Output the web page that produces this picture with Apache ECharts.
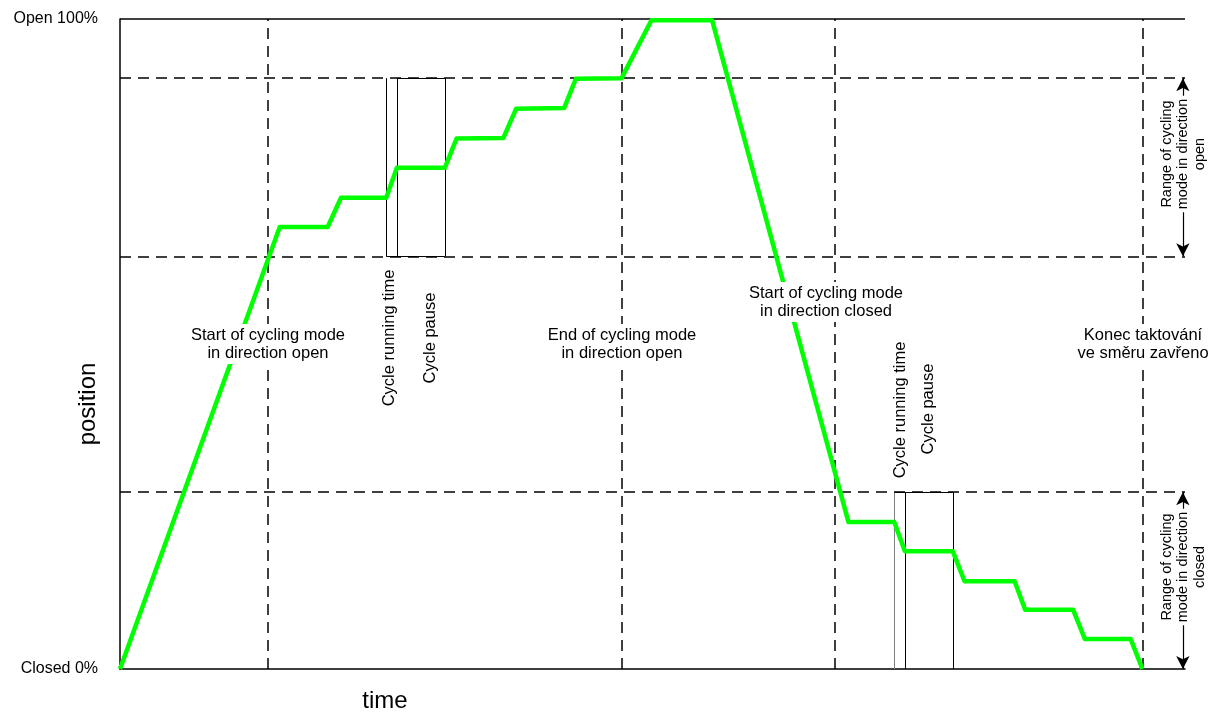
<!DOCTYPE html>
<html>
<head>
<meta charset="utf-8">
<script src="https://cdn.jsdelivr.net/npm/echarts@6/dist/echarts.min.js"></script>
<style>
  html, body { margin: 0; padding: 0; background: #fff; }
  #chart { width: 1211px; height: 712px; }
</style>
</head>
<body>
<div id="chart"></div>
<script>
// valve position over time (time in % of plotted span, position in % open)
const timePoints = [0, 15.0, 19.5, 20.75, 25.0, 26.0, 30.5, 31.6, 36.0, 37.2, 41.7, 42.8, 47.1,
  49.9, 55.6, 68.4, 72.7, 73.7, 78.2, 79.3, 84.0, 85.0, 89.5, 90.6, 94.9, 96.0]
const positionPct = [0, 68.0, 68.0, 72.5, 72.5, 77.1, 77.1, 81.6, 81.7, 86.2, 86.3, 90.8, 90.9,
  99.8, 99.8, 22.6, 22.6, 18.1, 18.1, 13.5, 13.5, 9.1, 9.1, 4.6, 4.6, 0]

// dashed guide lines
const rangeLevels = [90.9, 63.5, 27.2]
const eventTimes = [13.9, 47.1, 67.1, 96.0]

// cycle running time / pause markers
const openCycleTimes = [25.0, 26.0, 30.5]
const closeCycleTimes = [72.7, 73.7, 78.2]
const rangeArrowTime = 99.8

const yTickLabels = { 0: 'Closed 0%', 100: 'Open 100%' }

const FONT = '"Liberation Sans", Arial, sans-serif'

const chart = echarts.init(document.getElementById('chart'), null, { renderer: 'canvas' })

function vSeg(x, y0, y1, color) {
  return [{ coord: [x, y0], lineStyle: { color: color } }, { coord: [x, y1] }]
}
function hSeg(x0, x1, y) {
  return [{ coord: [x0, y] }, { coord: [x1, y] }]
}

const boxLines = [
  vSeg(openCycleTimes[0], rangeLevels[1], rangeLevels[0], '#000'),
  vSeg(openCycleTimes[1], rangeLevels[1], rangeLevels[0], '#000'),
  vSeg(openCycleTimes[2], rangeLevels[1], rangeLevels[0], '#000'),
  hSeg(openCycleTimes[1], openCycleTimes[2], rangeLevels[0]),
  hSeg(openCycleTimes[0], openCycleTimes[2], rangeLevels[1]),
  vSeg(closeCycleTimes[0], 0, rangeLevels[2], '#808080'),
  vSeg(closeCycleTimes[1], 0, rangeLevels[2], '#000'),
  vSeg(closeCycleTimes[2], 0, rangeLevels[2], '#000'),
  hSeg(closeCycleTimes[0], closeCycleTimes[2], rangeLevels[2])
]

// plain annotation text, centred on (x, y)
function note(text, x, y, extra, rotated) {
  return {
    type: 'text',
    x: x,
    y: y,
    z: 100,
    rotation: rotated ? Math.PI / 2 : 0,
    style: Object.assign({
      text: text,
      font: '16.5px ' + FONT,
      fill: '#000',
      textAlign: 'center',
      textVerticalAlign: 'middle',
      verticalAlign: 'middle',
      lineHeight: 18
    }, extra || {})
  }
}
const boxed = { backgroundColor: '#fff', padding: [2, 3] }
const rangeStyle = Object.assign({ font: '14.5px ' + FONT, lineHeight: 16.5 }, boxed)

chart.setOption({
  animation: false,
  grid: { left: 120, right: 26, top: 19, bottom: 43 },
  xAxis: {
    type: 'value',
    min: 0,
    max: 100,
    axisLine: { lineStyle: { color: '#000', width: 1.5 } },
    axisTick: { show: false },
    axisLabel: { show: false },
    splitLine: { show: false }
  },
  yAxis: {
    type: 'value',
    min: 0,
    max: 100,
    interval: 100,
    axisLine: { show: true, lineStyle: { color: '#000', width: 1.5 } },
    axisTick: { show: false },
    splitLine: { show: false },
    axisLabel: {
      color: '#000',
      fontSize: 16,
      fontFamily: FONT,
      margin: 22,
      formatter: v => yTickLabels[v] || ''
    }
  },
  series: [
    {
      name: 'guides',
      type: 'line',
      data: [],
      markLine: {
        silent: true,
        symbol: 'none',
        label: { show: false },
        lineStyle: { color: '#000', width: 1.5, type: [11, 7] },
        data: rangeLevels.map(v => ({ yAxis: v }))
          .concat(eventTimes.map(t => ({ xAxis: t })))
          .concat([{ yAxis: 100, lineStyle: { type: 'solid' } }])
      }
    },
    {
      name: 'cycles',
      type: 'line',
      data: [],
      markLine: {
        silent: true,
        symbol: 'none',
        label: { show: false },
        lineStyle: { color: '#000', width: 1, type: 'solid' },
        data: boxLines
      }
    },
    {
      name: 'ranges',
      type: 'line',
      data: [],
      markLine: {
        silent: true,
        symbol: ['arrow', 'arrow'],
        symbolSize: [10, 13],
        label: { show: false },
        lineStyle: { color: '#000', width: 1.2, type: 'solid' },
        data: [
          [{ coord: [rangeArrowTime, rangeLevels[0]] }, { coord: [rangeArrowTime, rangeLevels[1]] }],
          [{ coord: [rangeArrowTime, rangeLevels[2]] }, { coord: [rangeArrowTime, 0] }]
        ]
      }
    },
    {
      name: 'position',
      type: 'line',
      z: 5,
      symbol: 'none',
      lineStyle: { color: '#00ff00', width: 4.5, join: 'round' },
      itemStyle: { color: '#00ff00' },
      data: timePoints.map((t, i) => [t, positionPct[i]])
    }
  ],
  graphic: [
    note('time', 385, 701, { font: '24px ' + FONT }),
    note('position', 88, 404, { font: '24px ' + FONT }, true),
    note('Start of cycling mode\nin direction open', 268, 344, boxed),
    note('End of cycling mode\nin direction open', 622, 344, boxed),
    note('Start of cycling mode\nin direction closed', 826, 302, boxed),
    note('Konec taktování\nve směru zavřeno', 1143, 344, boxed),
    note('Cycle running time', 389, 338, null, true),
    note('Cycle pause', 430, 338, null, true),
    note('Cycle running time', 900, 410, null, true),
    note('Cycle pause', 928, 409, null, true),
    note('Range of cycling\nmode in direction\nopen', 1183, 154, rangeStyle, true),
    note('Range of cycling\nmode in direction\nclosed', 1183, 567, rangeStyle, true)
  ]
})
</script>
</body>
</html>
